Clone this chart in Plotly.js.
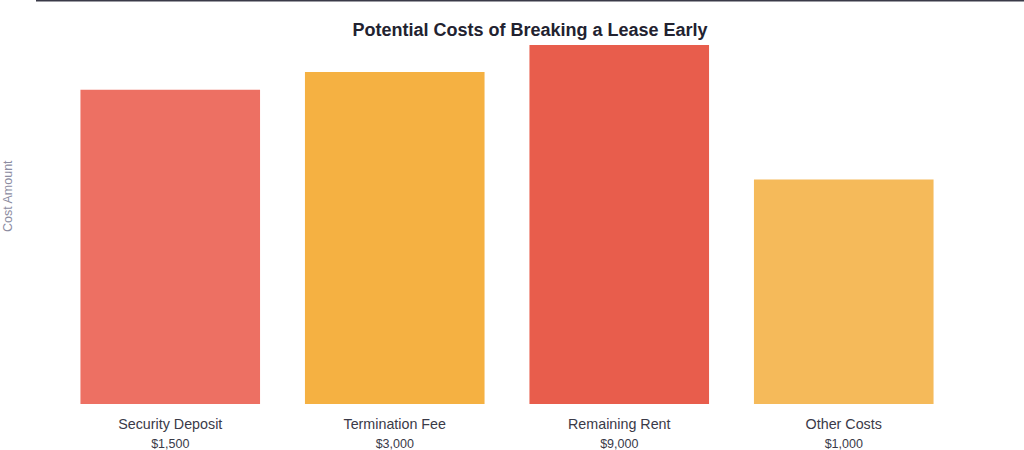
<!DOCTYPE html>
<html>
<head>
<meta charset="utf-8">
<script src="https://cdn.plot.ly/plotly-3.0.1.min.js"></script>
<style>html,body{margin:0;padding:0;background:#fff;}#chart{width:1024px;height:450px;}</style>
</head>
<body>
<div id="chart"></div>
<script>
const categories = ["Security Deposit", "Termination Fee", "Remaining Rent", "Other Costs"];
const costLabels = ["$1,500", "$3,000", "$9,000", "$1,000"];
const impactValues = [35, 37, 40, 25];
const barColors = ["#ED7063", "#F5B142", "#E85D4C", "#F5BA5A"];

const tickText = categories.map((c, i) => c + "<br><span style='font-size:12.5px'>" + costLabels[i] + "</span>");

const data = [{
  type: "bar",
  x: categories,
  y: impactValues,
  marker: {color: barColors},
  width: 0.8,
  hoverinfo: "none"
}];

const layout = {
  width: 1024,
  height: 450,
  margin: {l: 58, r: 68, t: 27, b: 46},
  paper_bgcolor: "#ffffff",
  plot_bgcolor: "#ffffff",
  font: {family: "Liberation Sans, Arial, sans-serif", color: "#3a3a48"},
  title: {
    text: "<b>Potential Costs of Breaking a Lease Early</b>",
    font: {size: 18, color: "#222230", family: "Liberation Sans, Arial, sans-serif"},
    x: (530 - 58) / 898, xanchor: "center", xref: "paper",
    y: 1 - 30 / 450, yanchor: "middle", yref: "container"
  },
  xaxis: {
    tickvals: categories,
    ticktext: tickText,
    tickfont: {size: 14.3, color: "#3a3a48"},
    ticklabelstandoff: 10,
    showline: false, showgrid: false, zeroline: false, ticks: ""
  },
  yaxis: {
    range: [0, 42],
    showticklabels: false, showgrid: false, zeroline: false, showline: false, ticks: ""
  },
  showlegend: false,
  bargap: 0.2,
  annotations: [{
    text: "Cost Amount",
    xref: "paper", yref: "paper",
    x: (8 - 58) / 898, y: (404 - 196) / 377,
    textangle: -90, showarrow: false,
    xanchor: "center", yanchor: "middle",
    font: {size: 12.5, color: "#8c8ca1"}
  }],
  shapes: [{
    type: "line", xref: "paper", yref: "paper",
    x0: (36 - 58) / 898, x1: (1030 - 58) / 898,
    y0: (404 - 0.5) / 377, y1: (404 - 0.5) / 377,
    line: {color: "#3a3a48", width: 2}
  }]
};

Plotly.newPlot("chart", data, layout, {displayModeBar: false, staticPlot: true});
</script>
</body>
</html>
